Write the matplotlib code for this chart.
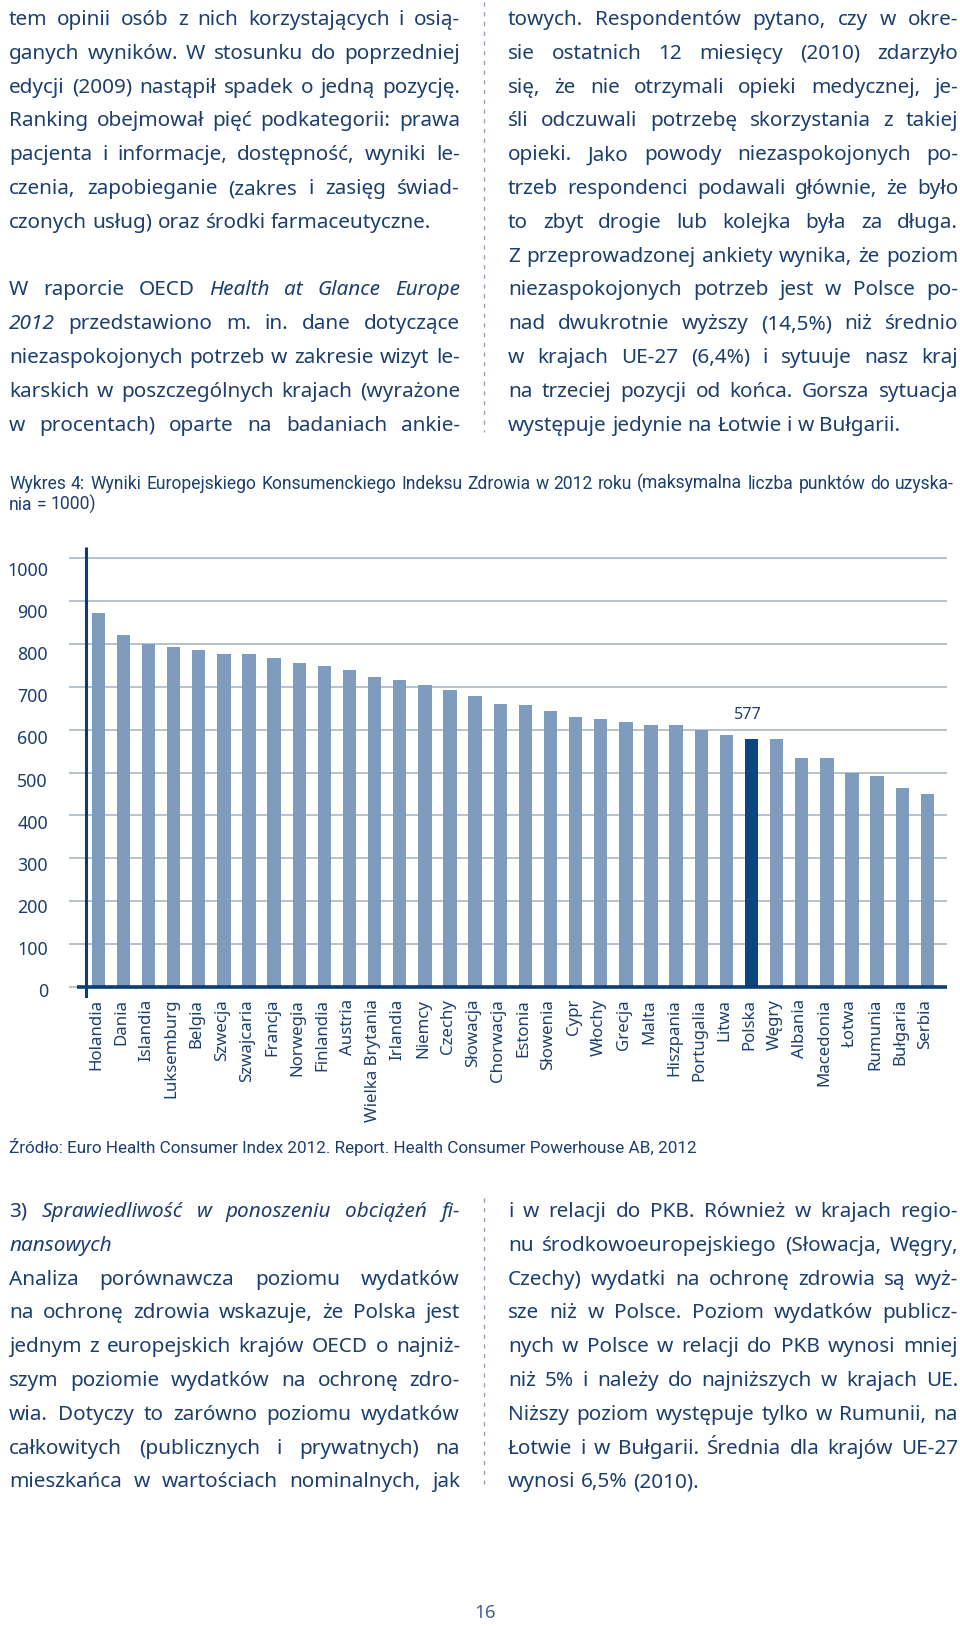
import matplotlib
matplotlib.use("Agg")
import matplotlib.pyplot as plt
from matplotlib import font_manager
from matplotlib.font_manager import FontProperties
from matplotlib.lines import Line2D
from matplotlib.transforms import ScaledTranslation
import numpy as np

# Dane wykresu
kraje = ["Holandia", "Dania", "Islandia", "Luksemburg", "Belgia", "Szwecja",
         "Szwajcaria", "Francja", "Norwegia", "Finlandia", "Austria",
         "Wielka Brytania", "Irlandia", "Niemcy", "Czechy", "Słowacja",
         "Chorwacja", "Estonia", "Słowenia", "Cypr", "Włochy", "Grecja",
         "Malta", "Hiszpania", "Portugalia", "Litwa", "Polska", "Węgry",
         "Albania", "Macedonia", "Łotwa", "Rumunia", "Bułgaria", "Serbia"]
wyniki = [872, 820, 798, 791, 785, 775, 775, 767, 756, 749, 738, 722, 715,
          704, 691, 677, 660, 656, 642, 629, 625, 618, 611, 611, 600, 587,
          577, 577, 533, 533, 498, 492, 464, 451]
wyrozniony = "Polska"
os_y = list(range(0, 1001, 100))

tytul = ["Wykres 4: Wyniki Europejskiego Konsumenckiego Indeksu Zdrowia w 2012 roku (maksymalna liczba punktów do uzyska-",
         "nia = 1000)"]
zrodlo = "Źródło: Euro Health Consumer Index 2012. Report. Health Consumer Powerhouse AB, 2012"

# tekst strony; "~" = kursywa, None = pusta linia, (tekst, False) = linia bez justowania
lewa_gora = [
    "tem opinii osób z nich korzystających i osią-",
    "ganych wyników. W stosunku do poprzedniej",
    "edycji (2009) nastąpił spadek o jedną pozycję.",
    "Ranking obejmował pięć podkategorii: prawa",
    "pacjenta i informacje, dostępność, wyniki le-",
    "czenia, zapobieganie (zakres i zasięg świad-",
    ("czonych usług) oraz środki farmaceutyczne.", False),
    None,
    "W raporcie OECD ~Health ~at ~Glance ~Europe",
    "~2012 przedstawiono m. in. dane dotyczące",
    "niezaspokojonych potrzeb w zakresie wizyt le-",
    "karskich w poszczególnych krajach (wyrażone",
    "w procentach) oparte na badaniach ankie-",
]
prawa_gora = [
    "towych. Respondentów pytano, czy w okre-",
    "sie ostatnich 12 miesięcy (2010) zdarzyło",
    "się, że nie otrzymali opieki medycznej, je-",
    "śli odczuwali potrzebę skorzystania z takiej",
    "opieki. Jako powody niezaspokojonych po-",
    "trzeb respondenci podawali głównie, że było",
    "to zbyt drogie lub kolejka była za długa.",
    "Z przeprowadzonej ankiety wynika, że poziom",
    "niezaspokojonych potrzeb jest w Polsce po-",
    "nad dwukrotnie wyższy (14,5%) niż średnio",
    "w krajach UE-27 (6,4%) i sytuuje nasz kraj",
    "na trzeciej pozycji od końca. Gorsza sytuacja",
    ("występuje jedynie na Łotwie i w Bułgarii.", False),
]
lewa_dol = [
    "3) ~Sprawiedliwość ~w ~ponoszeniu ~obciążeń ~fi-",
    ("~nansowych", False),
    "Analiza porównawcza poziomu wydatków",
    "na ochronę zdrowia wskazuje, że Polska jest",
    "jednym z europejskich krajów OECD o najniż-",
    "szym poziomie wydatków na ochronę zdro-",
    "wia. Dotyczy to zarówno poziomu wydatków",
    "całkowitych (publicznych i prywatnych) na",
    "mieszkańca w wartościach nominalnych, jak",
]
prawa_dol = [
    "i w relacji do PKB. Również w krajach regio-",
    "nu środkowoeuropejskiego (Słowacja, Węgry,",
    "Czechy) wydatki na ochronę zdrowia są wyż-",
    "sze niż w Polsce. Poziom wydatków publicz-",
    "nych w Polsce w relacji do PKB wynosi mniej",
    "niż 5% i należy do najniższych w krajach UE.",
    "Niższy poziom występuje tylko w Rumunii, na",
    "Łotwie i w Bułgarii. Średnia dla krajów UE-27",
    ("wynosi 6,5% (2010).", False),
]

W, H = 960, 1626
fig = plt.figure(figsize=(W / 100, H / 100), dpi=100)
fig.patch.set_facecolor("white")
renderer = fig.canvas.get_renderer()

installed = {f.name for f in font_manager.fontManager.ttflist}
BODY = "Noto Sans"
NARROW = "Liberation Sans Narrow" if "Liberation Sans Narrow" in installed else "Roboto"
plt.rcParams["font.family"] = [BODY, "DejaVu Sans"]

TXT = "#1d3f6e"
JASNY = "#7f9bbd"
CIEMNY = "#0b4680"
OS = "#0c3d73"
SIATKA = "#b2bdca"
KRESKI = "#8fa3ba"


def fp(size, italic=False, family=BODY):
    return FontProperties(family=family, size=size,
                          style="italic" if italic else "normal")


def szer(s, prop):
    w, h, d = renderer.get_text_width_height_descent(s, prop, ismath=False)
    return w


def fx(x):
    return x / W


def fy(y):
    return 1 - y / H


def tokeny(linia):
    return [(w.lstrip("~"), w.startswith("~")) for w in linia.split()]


def naturalna(linia, size, family=BODY):
    tk = tokeny(linia)
    spacja = szer("a a", fp(size, family=family)) - szer("aa", fp(size, family=family))
    return sum(szer(t, fp(size, it, family)) for t, it in tk) + spacja * (len(tk) - 1)


def rysuj_linie(linia, x0, x1, baza, size, justuj=True, family=BODY, color=TXT):
    tk = tokeny(linia)
    props = [fp(size, it, family) for _, it in tk]
    ws = [szer(t, p) for (t, _), p in zip(tk, props)]
    spacja = szer("a a", fp(size, family=family)) - szer("aa", fp(size, family=family))
    if justuj and len(tk) > 1:
        odstep = (x1 - x0 - sum(ws)) / (len(tk) - 1)
    else:
        odstep = spacja
    x = x0
    for (t, _), p, w in zip(tk, props, ws):
        fig.text(fx(x), fy(baza), t, fontproperties=p, color=color,
                 ha="left", va="baseline")
        x += w + odstep


def kolumna(linie, x0, x1, baza0, size, krok=33.8):
    for i, l in enumerate(linie):
        if l is None:
            continue
        justuj = True
        if isinstance(l, tuple):
            l, justuj = l
        rysuj_linie(l, x0, x1, baza0 + i * krok, size, justuj)


# dobór wielkości czcionki tak, by najciaśniejsza linia mieściła się w kolumnie
bloki = [(lewa_gora, 9, 460, 25), (prawa_gora, 508, 958, 25),
         (lewa_dol, 9, 460, 1217), (prawa_dol, 508, 958, 1217)]
f0 = 14.0
skala = 10.0
for linie, x0, x1, _ in bloki:
    for l in linie:
        if l is None or isinstance(l, tuple):
            continue
        skala = min(skala, (x1 - x0) / naturalna(l, f0))
body_size = f0 * skala * 0.995
for linie, x0, x1, b in bloki:
    kolumna(linie, x0, x1, b, body_size)

# przerywane separatory kolumn
for ya, yb in [(2, 432), (1198, 1485)]:
    fig.add_artist(Line2D([fx(484), fx(484)], [fy(ya), fy(yb)],
                          transform=fig.transFigure, color=KRESKI, lw=1.0,
                          linestyle=(0, (3, 4))))

# podpis wykresu
cap_size = 12 * 936 / naturalna(tytul[0], 12, NARROW)
rysuj_linie(tytul[0], 9, 954, 489, cap_size, True, NARROW)
rysuj_linie(tytul[1], 9, 954, 510, cap_size, False, NARROW)

src_size = 12 * 689 / szer(zrodlo, fp(12, family=NARROW))
fig.text(fx(9), fy(1153), zrodlo, fontproperties=fp(src_size, family=NARROW),
         color=TXT, ha="left", va="baseline")

# numer strony
fig.text(fx(485), fy(1618), "16", fontproperties=fp(13.5), color="#44658f",
         ha="center", va="baseline")

# wykres słupkowy
ax = fig.add_axes([fx(69), fy(998), fx(946.7) - fx(69), (998 - 546.7) / H])
x = np.arange(len(kraje))
kolory = [CIEMNY if k == wyrozniony else JASNY for k in kraje]
ax.bar(x, wyniki, width=0.53, color=kolory, zorder=3)
ax.set_xlim(-1.166, 33.77)
ax.set_ylim(-24.9, 1025.6)
ax.set_yticks(os_y)
ax.grid(axis="y", color=SIATKA, lw=1.3, zorder=1)
ax.set_axisbelow(True)
for s in ax.spines.values():
    s.set_visible(False)
ax.vlines(-0.49, -24.9, 1025.6, color=OS, lw=2.2, zorder=4)
ax.hlines(0, -0.86, 33.77, color=OS, lw=2.6, zorder=4)

ytick_size = 12 * 41 / szer("1000", fp(12))
xtick_size = 12 * 123 / szer("Wielka Brytania", fp(12))
ax.set_xticks(x, kraje, rotation=90)
ax.tick_params(axis="both", length=0)
ax.tick_params(axis="y", pad=15.1, labelsize=ytick_size, labelcolor=TXT)
ax.tick_params(axis="x", pad=0.7, labelsize=xtick_size, labelcolor=TXT)

for lab, v in zip(ax.get_yticklabels(), os_y):
    dy = -(3 + 8 * v / 1000) / 100
    lab.set_transform(lab.get_transform() + ScaledTranslation(0, dy, fig.dpi_scale_trans))
for lab in ax.get_xticklabels():
    lab.set_transform(lab.get_transform() + ScaledTranslation(-2 / 100, 0, fig.dpi_scale_trans))

i = kraje.index(wyrozniony)
ax.annotate(str(wyniki[i]), (x[i], wyniki[i]), xytext=(-4, 16),
            textcoords="offset pixels", ha="center", va="bottom",
            fontsize=12 * 28 / szer("577", fp(12)), color=TXT)

fig.savefig("out.png", dpi=100)
